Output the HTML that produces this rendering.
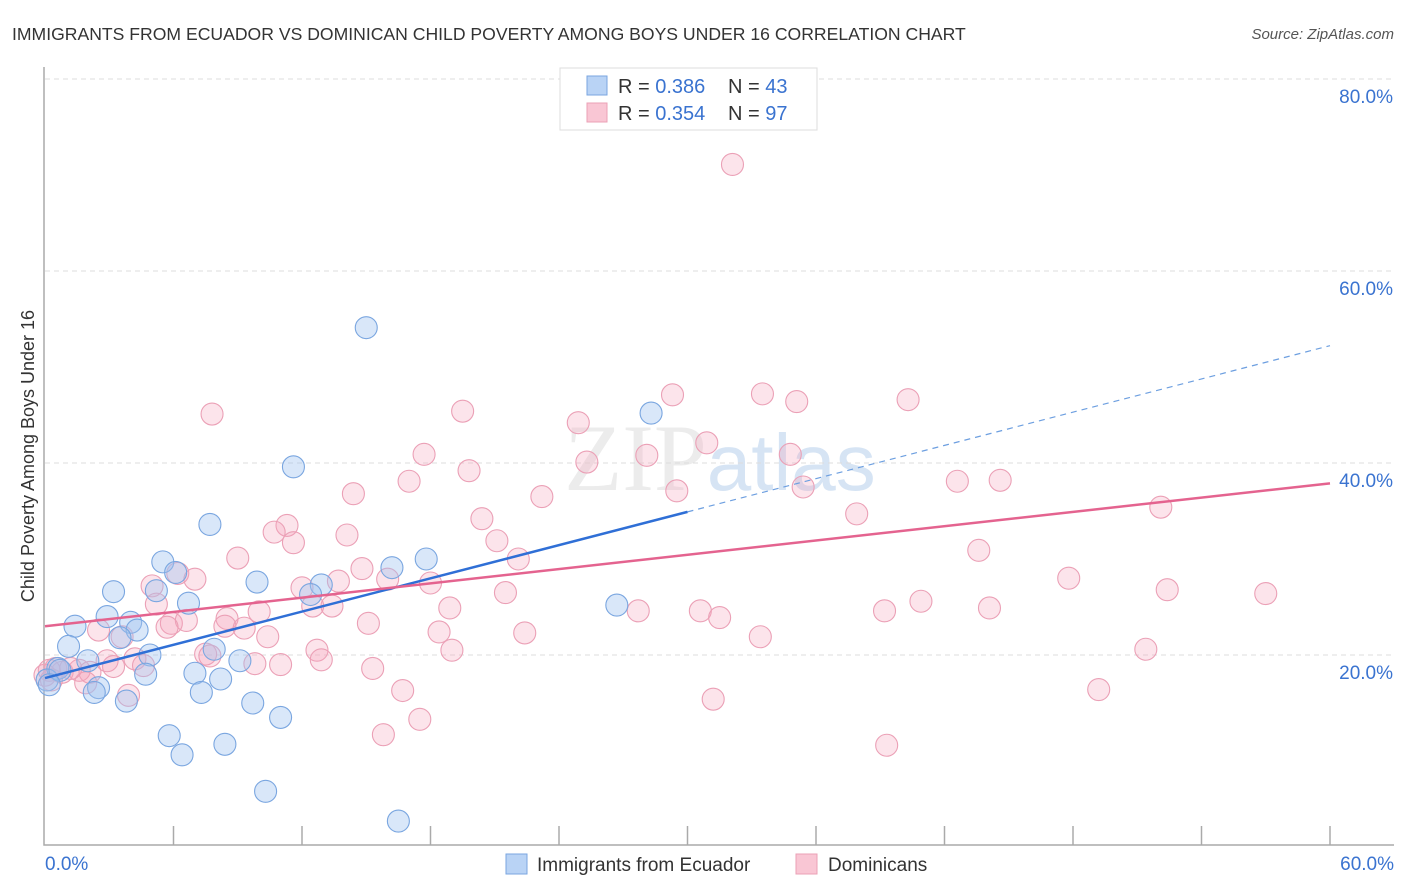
<!DOCTYPE html>
<html><head><meta charset="utf-8"><style>
body{margin:0;background:#fff;font-family:"Liberation Sans",sans-serif;}
#wrap{position:relative;width:1406px;height:892px;overflow:hidden;}
</style></head><body>
<div id="wrap">
<svg id="chart" width="1406" height="892" xmlns="http://www.w3.org/2000/svg">
<text x="12" y="40" font-size="17.6" fill="#333">IMMIGRANTS FROM ECUADOR VS DOMINICAN CHILD POVERTY AMONG BOYS UNDER 16 CORRELATION CHART</text>
<text x="1394" y="39" font-size="15" fill="#555" font-style="italic" text-anchor="end">Source: ZipAtlas.com</text>
<text x="720" y="490" font-size="95" fill="#ececec" text-anchor="middle" font-family="Liberation Serif,serif">ZIP<tspan fill="#d6e4f4" font-family="Liberation Sans,sans-serif" font-size="80">atlas</tspan></text>
<g id="grid"></g>
<g id="axes"></g>
<g id="marks"></g>
<g id="lines"></g>
<text transform="translate(34,456) rotate(-90)" font-size="18" fill="#333" text-anchor="middle">Child Poverty Among Boys Under 16</text>
<g>
<rect x="560" y="68" width="257" height="62" fill="#fff" stroke="#ddd"/>
<rect x="587" y="76" width="20" height="19" fill="#b9d3f5" stroke="#7aa6e0"/>
<rect x="587" y="103" width="20" height="19" fill="#f9c6d4" stroke="#eba0b6"/>
<text x="618" y="93" font-size="20" fill="#333">R = <tspan fill="#3a73d0">0.386</tspan><tspan x="728">N = </tspan><tspan fill="#3a73d0">43</tspan></text>
<text x="618" y="120" font-size="20" fill="#333">R = <tspan fill="#3a73d0">0.354</tspan><tspan x="728">N = </tspan><tspan fill="#3a73d0">97</tspan></text>
</g>
<g>
<rect x="506" y="854" width="21" height="20" fill="#b9d3f5" stroke="#7aa6e0"/>
<text x="537" y="871" font-size="19" fill="#333">Immigrants from Ecuador</text>
<rect x="796" y="854" width="21" height="20" fill="#f9c6d4" stroke="#eba0b6"/>
<text x="828" y="871" font-size="19" fill="#333">Dominicans</text>
</g>
</svg>
</div>
<script>
const blueX=[15.0,11.6,7.7,28.3,5.5,6.1,3.2,5.2,6.7,9.9,12.9,12.4,16.2,17.8,26.7,1.4,2.9,4.0,4.3,3.5,1.1,4.9,7.9,2.0,9.1,4.7,7.0,8.2,0.6,0.1,2.5,2.3,7.3,3.8,9.7,11.0,5.8,8.4,6.4,10.3,16.5,0.7,0.2];
const blueY=[54.1,39.6,33.6,45.2,29.7,28.6,26.6,26.7,25.4,27.6,27.3,26.3,29.1,30.0,25.2,23.0,24.0,23.4,22.6,21.8,20.9,20.0,20.6,19.4,19.4,18.0,18.1,17.5,18.6,17.4,16.6,16.1,16.1,15.2,15.0,13.5,11.6,10.7,9.6,5.8,2.7,18.4,16.9];
const pinkX=[32.1,7.8,19.5,29.3,33.5,35.1,40.3,24.9,30.9,17.7,28.1,25.3,19.8,34.8,14.4,17.0,23.2,29.5,35.4,42.6,44.6,37.9,52.1,11.3,10.7,11.6,14.1,20.4,21.1,43.6,22.1,9.0,14.8,5.0,6.2,7.0,16.0,18.0,12.0,13.7,47.8,52.4,57.0,21.5,5.2,12.5,13.4,18.9,27.7,30.6,31.5,39.2,40.9,44.1,8.5,10.0,5.9,6.6,5.7,8.4,15.1,9.3,2.5,3.6,10.4,18.4,22.4,33.4,19.0,12.7,7.5,7.7,12.9,51.4,4.2,2.9,4.6,9.8,11.0,15.3,0.5,0.8,1.6,2.1,0.0,3.2,1.9,3.9,16.7,49.2,31.2,17.5,15.8,39.3,0.2,1.2,0.3];
const pinkY=[71.1,45.1,45.4,47.1,47.2,46.4,46.6,44.2,42.1,40.9,40.8,40.1,39.2,40.9,36.8,38.1,36.5,37.1,37.5,38.1,38.2,34.7,35.4,33.5,32.8,31.7,32.5,34.2,31.9,30.9,30.0,30.1,29.0,27.2,28.5,27.9,27.9,27.5,27.0,27.7,28.0,26.8,26.4,26.5,25.3,25.1,25.1,24.9,24.6,24.6,23.9,24.6,25.6,24.9,23.8,24.5,23.3,23.6,22.9,23.0,23.3,22.8,22.6,21.9,21.9,22.4,22.3,21.9,20.5,20.5,20.1,19.9,19.5,20.6,19.6,19.4,18.9,19.1,19.0,18.6,18.6,18.2,18.4,18.2,17.9,18.8,17.1,15.8,16.3,16.4,15.4,13.3,11.7,10.6,18.4,18.6,17.4];
const yTicks=[20,40,60,80];
const xTicks=[0,6,12,18,24,30,36,42,48,54,60];
const blueFit=[17.6,0.577];
const pinkFit=[23.0,0.248];
const NS='http://www.w3.org/2000/svg';
const X0=45,X1=1330,Y0=847,PXY=9.6;
function sx(v){return X0+v*(X1-X0)/60;}
function sy(v){return Y0-v*PXY;}
function mk(tag,attrs,parent){const e=document.createElementNS(NS,tag);for(const k in attrs)e.setAttribute(k,attrs[k]);document.getElementById(parent).appendChild(e);return e;}
yTicks.forEach(t=>{
 const l=mk('line',{x1:45,x2:1394,y1:sy(t),y2:sy(t),stroke:'#ddd','stroke-dasharray':'5,4'},'grid');
 
 
 const tx=mk('text',{x:1393,y:sy(t)+24,'font-size':19,fill:'#3a73d0','text-anchor':'end'},'grid');
 tx.textContent=t.toFixed(1)+'%';
 
 
});
const ax=mk('path',{d:'M44,67 V845 H1394',fill:'none',stroke:'#aaa','stroke-width':1.5},'axes');


xTicks.forEach(t=>{
 if(t===0)return;
 const l=mk('line',{x1:sx(t),x2:sx(t),y1:826,y2:845,stroke:'#aaa','stroke-width':1.5},'axes');
 
 
});
[[0,'start',45],[60,'end',1394]].forEach(a=>{
 const tx=mk('text',{x:a[2],y:870,'font-size':19,fill:'#3a73d0','text-anchor':a[1]},'axes');
 tx.textContent=a[0].toFixed(1)+'%';
 
 
});
pinkX.forEach((x,i)=>{
 const c=mk('circle',{cx:sx(x),cy:sy(pinkY[i]),r:11,fill:'rgba(245,165,190,0.3)',stroke:'#eba0b6','stroke-width':1.1},'marks');
 
 
});
blueX.forEach((x,i)=>{
 const c=mk('circle',{cx:sx(x),cy:sy(blueY[i]),r:11,fill:'rgba(160,196,240,0.4)',stroke:'#7aa6e0','stroke-width':1.1},'marks');
 
 
});
const bl=mk('line',{x1:sx(0),y1:sy(blueFit[0]),x2:sx(30),y2:sy(blueFit[0]+30*blueFit[1]),stroke:'#2f6fd6','stroke-width':2.5},'lines');


const bd=mk('line',{x1:sx(30),y1:sy(blueFit[0]+30*blueFit[1]),x2:sx(60),y2:sy(blueFit[0]+60*blueFit[1]),stroke:'#6d9fe0','stroke-width':1.2,'stroke-dasharray':'6,5'},'lines');


const pl=mk('line',{x1:sx(0),y1:sy(pinkFit[0]),x2:sx(60),y2:sy(pinkFit[0]+60*pinkFit[1]),stroke:'#e4638f','stroke-width':2.5},'lines');


</script>
</body></html>
